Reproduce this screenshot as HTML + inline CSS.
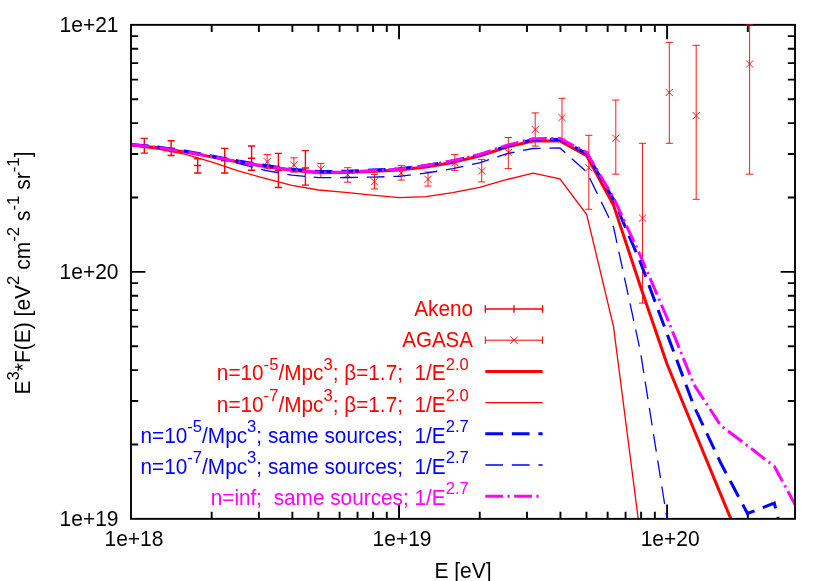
<!DOCTYPE html>
<html><head><meta charset="utf-8"><title>plot</title>
<style>html,body{margin:0;padding:0;background:#fff}svg{display:block;position:absolute;left:0;top:0;will-change:transform}text{font-family:"Liberation Sans",sans-serif}</style></head><body>
<svg width="830" height="581" viewBox="0 0 830 581">
<rect width="830" height="581" fill="#fff"/>
<defs><clipPath id="c"><rect x="131.00" y="24.85" width="664.00" height="494.00"/></clipPath></defs>
<path d="M211.69 518.85v-7.2 M211.69 24.85v7.2 M258.89 518.85v-7.2 M258.89 24.85v7.2 M292.38 518.85v-7.2 M292.38 24.85v7.2 M318.36 518.85v-7.2 M318.36 24.85v7.2 M339.59 518.85v-7.2 M339.59 24.85v7.2 M357.53 518.85v-7.2 M357.53 24.85v7.2 M373.08 518.85v-7.2 M373.08 24.85v7.2 M386.79 518.85v-7.2 M386.79 24.85v7.2 M399.05 518.85v-14.4 M399.05 24.85v14.4 M479.75 518.85v-7.2 M479.75 24.85v7.2 M526.95 518.85v-7.2 M526.95 24.85v7.2 M560.44 518.85v-7.2 M560.44 24.85v7.2 M586.41 518.85v-7.2 M586.41 24.85v7.2 M607.64 518.85v-7.2 M607.64 24.85v7.2 M625.58 518.85v-7.2 M625.58 24.85v7.2 M641.13 518.85v-7.2 M641.13 24.85v7.2 M654.84 518.85v-7.2 M654.84 24.85v7.2 M667.11 518.85v-14.4 M667.11 24.85v14.4 M747.80 518.85v-7.2 M747.80 24.85v7.2 M131.00 444.50h7.2 M795.00 444.50h-7.2 M131.00 401.00h7.2 M795.00 401.00h-7.2 M131.00 370.14h7.2 M795.00 370.14h-7.2 M131.00 346.20h7.2 M795.00 346.20h-7.2 M131.00 326.65h7.2 M795.00 326.65h-7.2 M131.00 310.11h7.2 M795.00 310.11h-7.2 M131.00 295.79h7.2 M795.00 295.79h-7.2 M131.00 283.15h7.2 M795.00 283.15h-7.2 M131.00 271.85h14.4 M795.00 271.85h-14.4 M131.00 197.50h7.2 M795.00 197.50h-7.2 M131.00 154.00h7.2 M795.00 154.00h-7.2 M131.00 123.14h7.2 M795.00 123.14h-7.2 M131.00 99.20h7.2 M795.00 99.20h-7.2 M131.00 79.65h7.2 M795.00 79.65h-7.2 M131.00 63.11h7.2 M795.00 63.11h-7.2 M131.00 48.79h7.2 M795.00 48.79h-7.2 M131.00 36.15h7.2 M795.00 36.15h-7.2" stroke="#000" stroke-width="1.9" fill="none"/>
<text transform="translate(118.50,32.35) scale(1.0000,1.0350)" font-size="21" text-anchor="end" fill="#000" xml:space="preserve">1e+21</text>
<text transform="translate(118.50,279.35) scale(1.0000,1.0350)" font-size="21" text-anchor="end" fill="#000" xml:space="preserve">1e+20</text>
<text transform="translate(118.50,526.35) scale(1.0000,1.0350)" font-size="21" text-anchor="end" fill="#000" xml:space="preserve">1e+19</text>
<text transform="translate(134.00,546.00) scale(1.0000,1.0350)" font-size="21" text-anchor="middle" fill="#000" xml:space="preserve">1e+18</text>
<text transform="translate(402.05,546.00) scale(1.0000,1.0350)" font-size="21" text-anchor="middle" fill="#000" xml:space="preserve">1e+19</text>
<text transform="translate(670.11,546.00) scale(1.0000,1.0350)" font-size="21" text-anchor="middle" fill="#000" xml:space="preserve">1e+20</text>
<text transform="translate(463.00,577.60) scale(1.0000,1.0350)" font-size="21" text-anchor="middle" fill="#000" xml:space="preserve">E [eV]</text>
<text transform="translate(29.80,273.00) rotate(-90) scale(1.0000,1.0350)" font-size="21" text-anchor="middle" fill="#000" xml:space="preserve">E<tspan font-size="16.8" dy="-10.3">3</tspan><tspan dy="10.3">*F(E) [eV</tspan><tspan font-size="16.8" dy="-10.3">2</tspan><tspan dy="10.3"> cm</tspan><tspan font-size="16.8" dy="-10.3">-2</tspan><tspan dy="10.3"> s</tspan><tspan font-size="16.8" dy="-10.3">-1</tspan><tspan dy="10.3"> sr</tspan><tspan font-size="16.8" dy="-10.3">-1</tspan><tspan dy="10.3">]</tspan></text>
<g clip-path="url(#c)" fill="none">
<path d="M144.3 138.4V153.1 M140.7 138.4h7.2 M140.7 153.1h7.2 M140.7 145.7h7.2 M144.3 142.1v7.2 M171.1 140.8V155.5 M167.5 140.8h7.2 M167.5 155.5h7.2 M167.5 148.1h7.2 M171.1 144.5v7.2 M197.7 158.7V173.0 M194.1 158.7h7.2 M194.1 173.0h7.2 M194.1 165.5h7.2 M197.7 161.9v7.2 M224.7 148.4V173.0 M221.1 148.4h7.2 M221.1 173.0h7.2 M221.1 160.7h7.2 M224.7 157.1v7.2 M251.6 146.0V170.3 M248.0 146.0h7.2 M248.0 170.3h7.2 M248.0 158.2h7.2 M251.6 154.6v7.2 M278.4 153.4V187.5 M274.8 153.4h7.2 M274.8 187.5h7.2 M274.8 170.5h7.2 M278.4 166.9v7.2 M305.4 150.6V185.1 M301.8 150.6h7.2 M301.8 185.1h7.2 M301.8 168.0h7.2 M305.4 164.4v7.2" stroke="#f00" stroke-width="1.4"/>
<path d="M267.2 154.6V168.8 M263.6 154.6h7.2 M263.6 168.8h7.2 M263.6 158.1l7.2 7.2 M263.6 165.3l7.2 -7.2 M293.9 157.8V172.2 M290.3 157.8h7.2 M290.3 172.2h7.2 M290.3 161.4l7.2 7.2 M290.3 168.6l7.2 -7.2 M320.8 163.4V177.5 M317.2 163.4h7.2 M317.2 177.5h7.2 M317.2 165.4l7.2 7.2 M317.2 172.6l7.2 -7.2 M347.7 167.7V182.2 M344.1 167.7h7.2 M344.1 182.2h7.2 M344.1 171.1l7.2 7.2 M344.1 178.3l7.2 -7.2 M374.5 174.4V188.9 M370.9 174.4h7.2 M370.9 188.9h7.2 M370.9 178.2l7.2 7.2 M370.9 185.4l7.2 -7.2 M401.2 165.6V180.1 M397.6 165.6h7.2 M397.6 180.1h7.2 M397.6 169.5l7.2 7.2 M397.6 176.7l7.2 -7.2 M428.0 172.0V186.1 M424.4 172.0h7.2 M424.4 186.1h7.2 M424.4 175.7l7.2 7.2 M424.4 182.9l7.2 -7.2 M454.8 154.6V170.4 M451.2 154.6h7.2 M451.2 170.4h7.2 M451.2 159.3l7.2 7.2 M451.2 166.5l7.2 -7.2 M481.7 159.6V181.9 M478.1 159.6h7.2 M478.1 181.9h7.2 M478.1 167.4l7.2 7.2 M478.1 174.6l7.2 -7.2 M508.3 137.5V168.6 M504.7 137.5h7.2 M504.7 168.6h7.2 M504.7 149.0l7.2 7.2 M504.7 156.2l7.2 -7.2 M535.2 112.9V146.1 M531.6 112.9h7.2 M531.6 146.1h7.2 M531.6 125.9l7.2 7.2 M531.6 133.1l7.2 -7.2 M562.0 98.3V139.0 M558.4 98.3h7.2 M558.4 139.0h7.2 M558.4 114.0l7.2 7.2 M558.4 121.2l7.2 -7.2 M588.8 135.3V209.3 M585.2 135.3h7.2 M585.2 209.3h7.2 M585.2 164.1l7.2 7.2 M585.2 171.3l7.2 -7.2 M615.8 100.0V174.2 M612.2 100.0h7.2 M612.2 174.2h7.2 M612.2 134.6l7.2 7.2 M612.2 141.8l7.2 -7.2 M642.5 143.3V303.1 M638.9 143.3h7.2 M638.9 303.1h7.2 M638.9 214.5l7.2 7.2 M638.9 221.7l7.2 -7.2 M669.3 42.4V143.3 M665.7 42.4h7.2 M665.7 143.3h7.2 M665.7 88.9l7.2 7.2 M665.7 96.1l7.2 -7.2 M696.2 45.3V199.3 M692.6 45.3h7.2 M692.6 199.3h7.2 M692.6 112.1l7.2 7.2 M692.6 119.3l7.2 -7.2 M749.6 24.9V174.2 M746.0 24.9h7.2 M746.0 174.2h7.2 M746.0 60.4l7.2 7.2 M746.0 67.6l7.2 -7.2" stroke="#f00" stroke-width="0.9"/>
<polyline points="131.0,144.9 157.8,147.7 184.6,151.9 211.4,156.9 238.2,162.0 265.0,166.5 291.8,170.3 318.6,172.8 345.4,172.6 372.2,171.4 399.1,170.1 425.9,166.9 452.7,162.4 479.5,156.0 506.3,147.2 533.1,141.0 559.9,141.0 586.7,155.8 613.5,205.1 640.3,286.0 667.1,364.2 693.9,429.5 720.7,494.4 747.5,559.0" stroke="#f00" stroke-width="3" stroke-linejoin="round"/>
<polyline points="131.0,145.7 157.8,149.0 184.6,154.1 211.4,161.9 238.2,170.9 265.0,178.4 291.8,185.4 318.6,190.0 345.4,192.4 372.2,195.2 399.1,197.6 425.9,196.6 452.7,192.7 479.5,187.3 506.3,179.7 533.1,173.1 559.9,178.8 586.7,214.5 613.5,326.6 640.3,535.0" stroke="#f00" stroke-width="1.3"/>
<polyline points="131.0,144.4 157.8,147.0 184.6,151.1 211.4,155.9 238.2,161.0 265.0,165.4 291.8,169.2 318.6,171.6 345.4,171.3 372.2,170.0 399.1,168.8 425.9,165.5 452.7,161.0 479.5,155.0 506.3,146.2 533.1,139.6 559.9,139.4 586.7,153.6 613.5,199.5 640.3,262.0 667.1,334.0 693.9,406.0 720.7,463.0 747.5,513.5 774.3,503.1 801.1,611.0" stroke="#00f" stroke-width="3" stroke-dasharray="17.7 8.85"/>
<polyline points="131.0,144.7 157.8,147.6 184.6,151.9 211.4,157.2 238.2,163.3 265.0,170.3 291.8,175.1 318.6,177.7 345.4,177.5 372.2,177.1 399.1,176.3 425.9,173.1 452.7,168.7 479.5,162.8 506.3,153.8 533.1,148.5 559.9,148.0 586.7,172.0 613.5,227.0 640.3,351.0 667.1,519.5" stroke="#00f" stroke-width="1.3" stroke-dasharray="17.7 8.85"/>
<polyline points="131.0,144.5 157.8,147.4 184.6,151.6 211.4,156.6 238.2,161.7 265.0,166.1 291.8,169.9 318.6,172.3 345.4,172.0 372.2,170.7 399.1,169.3 425.9,165.6 452.7,160.8 479.5,154.5 506.3,145.4 533.1,138.7 559.9,138.5 586.7,152.5 613.5,197.7 640.3,255.5 667.1,318.0 693.9,384.5 720.7,425.5 747.5,445.7 774.3,466.3 801.1,515.6" stroke="#f0f" stroke-width="3" stroke-dasharray="17.76 4.44 2.22 4.44"/>
</g>
<rect x="131.00" y="24.85" width="664.00" height="494.00" fill="none" stroke="#000" stroke-width="1.9"/>
<path d="M746 24.85h7.2" stroke="#f00" stroke-width="1"/>
<text transform="translate(473.00,315.80) scale(0.9880,1.0350)" font-size="21" text-anchor="end" fill="#f00" xml:space="preserve">Akeno</text>
<path d="M485.3 309.0H542.6 M485.3 305.2v7.6 M542.6 305.2v7.6 M514.0 305.2v7.6" stroke="#f00" stroke-width="1.4" fill="none"/>
<text transform="translate(473.00,347.40) scale(0.9780,1.0350)" font-size="21" text-anchor="end" fill="#f00" xml:space="preserve">AGASA</text>
<path d="M485.3 340.2H542.6 M485.3 336.4v7.6 M542.6 336.4v7.6 M510.4 336.6l7.2 7.2 M510.4 343.8l7.2 -7.2" stroke="#f00" stroke-width="1" fill="none"/>
<text transform="translate(468.80,380.30) scale(0.9900,1.0350)" font-size="21" text-anchor="end" fill="#f00" xml:space="preserve">n=10<tspan font-size="16.8" dy="-10.3">-5</tspan><tspan dy="10.3">/Mpc</tspan><tspan font-size="16.8" dy="-10.3">3</tspan><tspan dy="10.3">; &#946;=1.7;  1/E</tspan><tspan font-size="16.8" dy="-10.3">2.0</tspan><tspan dy="10.3"></tspan></text>
<text transform="translate(468.80,411.50) scale(0.9900,1.0350)" font-size="21" text-anchor="end" fill="#f00" xml:space="preserve">n=10<tspan font-size="16.8" dy="-10.3">-7</tspan><tspan dy="10.3">/Mpc</tspan><tspan font-size="16.8" dy="-10.3">3</tspan><tspan dy="10.3">; &#946;=1.7;  1/E</tspan><tspan font-size="16.8" dy="-10.3">2.0</tspan><tspan dy="10.3"></tspan></text>
<text transform="translate(468.80,442.70) scale(0.9900,1.0350)" font-size="21" text-anchor="end" fill="#00f" xml:space="preserve">n=10<tspan font-size="16.8" dy="-10.3">-5</tspan><tspan dy="10.3">/Mpc</tspan><tspan font-size="16.8" dy="-10.3">3</tspan><tspan dy="10.3">; same sources;  1/E</tspan><tspan font-size="16.8" dy="-10.3">2.7</tspan><tspan dy="10.3"></tspan></text>
<text transform="translate(468.80,473.90) scale(0.9900,1.0350)" font-size="21" text-anchor="end" fill="#00f" xml:space="preserve">n=10<tspan font-size="16.8" dy="-10.3">-7</tspan><tspan dy="10.3">/Mpc</tspan><tspan font-size="16.8" dy="-10.3">3</tspan><tspan dy="10.3">; same sources;  1/E</tspan><tspan font-size="16.8" dy="-10.3">2.7</tspan><tspan dy="10.3"></tspan></text>
<text transform="translate(468.80,505.10) scale(0.9900,1.0350)" font-size="21" text-anchor="end" fill="#f0f" xml:space="preserve">n=inf;  same sources; 1/E<tspan font-size="16.8" dy="-10.3">2.7</tspan><tspan dy="10.3"></tspan></text>
<path d="M485.3 371.4H542.6" stroke="#f00" stroke-width="3"/>
<path d="M485.3 402.6H542.6" stroke="#f00" stroke-width="1.3"/>
<path d="M485.3 433.8H542.6" stroke="#00f" stroke-width="3" stroke-dasharray="17.7 8.85"/>
<path d="M485.3 465.0H542.6" stroke="#00f" stroke-width="1.3" stroke-dasharray="17.7 8.85"/>
<path d="M485.3 496.2H542.6" stroke="#f0f" stroke-width="3" stroke-dasharray="17.76 4.44 2.22 4.44"/>
</svg></body></html>
